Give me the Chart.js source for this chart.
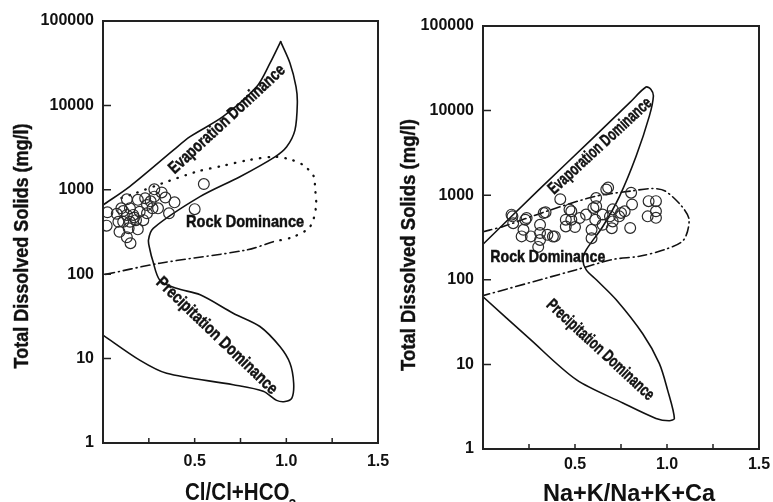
<!DOCTYPE html>
<html>
<head>
<meta charset="utf-8">
<script src="https://cdn.jsdelivr.net/npm/chart.js@4.4.1/dist/chart.umd.min.js"></script>
<style>
  html, body { margin: 0; padding: 0; background: #fff; }
  #wrap { position: relative; width: 773px; height: 502px; overflow: hidden; }
  canvas { position: absolute; top: 0; }
  #chartCl { left: 0; }
  #chartNa { left: 386px; }
</style>
</head>
<body>
<div id="wrap">
  <canvas id="chartCl" width="400" height="502"></canvas>
  <canvas id="chartNa" width="387" height="502"></canvas>
</div>
<script>
    // axis ticks (shared by both panels)
    const xTicks = [0, 0.25, 0.5, 0.75, 1.0, 1.25, 1.5];
    const xTickLabels = ['', '', '0.5', '', '1.0', '', '1.5'];
    const yTicks = [1, 10, 100, 1000, 10000, 100000];
    const yTickLabels = ['1', '10', '100', '1000', '10000', '100000'];

    // Cl/(Cl+HCO3) panel - samples
    const clSamplesX = [0.024, 0.02, 0.13, 0.10, 0.147, 0.165, 0.13, 0.084, 0.11, 0.147, 0.18, 0.22, 0.24, 0.24, 0.28,
      0.28, 0.34, 0.39, 0.36, 0.30, 0.27, 0.20, 0.09, 0.14, 0.19, 0.13, 0.15, 0.55, 0.50, 0.23, 0.11, 0.17, 0.075, 0.19, 0.26, 0.32];
    const clSamplesY = [541, 376, 771, 603, 603, 504, 504, 418, 418, 418, 437, 437, 527, 660, 1013,
      830, 810, 710, 527, 603, 603, 550, 318, 350, 340, 274, 233, 1170, 590, 795, 560, 470, 520, 760, 730, 930];

    // Cl panel - evaporation boundary up to the cusp
    const clEvapTopX = [0, 0.147, 0.384, 0.475, 0.656, 0.838, 0.911, 0.969];
    const clEvapTopY = [660, 1100, 2950, 4260, 7400, 16600, 31600, 56900];
    // Cl panel - from the cusp down round the precipitation tongue
    const clEnvX = [0.969, 1.02, 1.053, 1.06, 1.047, 1.002, 0.938, 0.747, 0.529, 0.274, 0.248, 0.256, 0.27, 0.31, 0.40,
      0.53, 0.71, 0.856, 0.966, 1.02, 1.04, 1.03, 0.993, 0.947, 0.874, 0.71, 0.347, 0.20, 0];
    const clEnvY = [56900, 31600, 16600, 10600, 5100, 3240, 2460, 1430, 830, 350, 254, 195, 148, 85, 68,
      57, 34.5, 24, 13.8, 8.8, 5.1, 3.4, 3.1, 3.2, 4.1, 4.9, 6.7, 9.6, 19];
    // Cl panel - rock dominance boundary (dotted, then dash-dot)
    const clRockDotX = [0.1, 0.175, 0.327, 0.511, 0.656, 0.793, 0.938, 1.02, 1.093, 1.151, 1.156, 1.162, 1.129, 1.038, 0.929];
    const clRockDotY = [800, 910, 1200, 1640, 1930, 2250, 2460, 2290, 1960, 1430, 1090, 630, 365, 277, 243];
    const clRockDashX = [0.929, 0.785, 0.31, 0];
    const clRockDashY = [243, 194, 135, 98];

    // Na+K/(Na+K+Ca) panel - samples
    const naSamplesX = [0.155, 0.164, 0.237, 0.22, 0.21, 0.26, 0.31, 0.31, 0.31, 0.30, 0.35, 0.39, 0.34, 0.42, 0.48,
      0.45, 0.45, 0.50, 0.525, 0.56, 0.60, 0.615, 0.67, 0.705, 0.65, 0.61, 0.59, 0.59, 0.65, 0.705, 0.70, 0.74,
      0.80, 0.81, 0.805, 0.77, 0.68, 0.90, 0.94, 0.895, 0.94, 0.94, 0.33, 0.23, 0.16, 0.38, 0.615, 0.69, 0.75, 0.47, 0.48];
    const naSamplesY = [589, 467, 537, 390, 326, 326, 447, 357, 296, 245, 340, 326, 627, 897, 645,
      513, 427, 420, 537, 590, 707, 925, 1170, 680, 590, 513, 390, 310, 447, 490, 407, 562,
      410, 776, 1070, 645, 1230, 850, 850, 562, 645, 540, 617, 513, 562, 324, 741, 562, 617, 676, 513];
    const naEnvX = [0, 0.3, 0.6, 0.8, 0.886, 0.913, 0.926, 0.904, 0.832, 0.742, 0.651, 0.561, 0.543, 0.561, 0.616,
      0.724, 0.868, 0.958, 1.003, 1.04, 1.012, 0.94, 0.76, 0.507, 0.254, 0];
    const naEnvY = [263, 1140, 4800, 12600, 19000, 17800, 14800, 8600, 2880, 970, 427, 226, 173, 131, 100,
      58, 23, 10.3, 5, 2.3, 2.16, 2.3, 3.5, 6.6, 20, 63];
    const naRockX = [0, 0.11, 0.345, 0.616, 0.805, 0.92, 0.99, 1.08, 1.12, 1.09, 0.99, 0.85, 0.706, 0.51, 0];
    const naRockY = [370, 427, 646, 977, 1120, 1200, 1120, 740, 513, 295, 229, 190, 174, 132, 65];

    const FONT = "'Liberation Sans', Arial, sans-serif";
    const INK = '#111';

    // per-panel decorations: region names sit at data coords, titles at canvas coords
    const decor = {
      chartCl: {
        xTitle: 'Cl/Cl+HCO', xSub: '3', xTitlePos: [241, 500], xTitleW: 112,
        yTitlePos: [22, 246], yTitleW: 245,
        regions: [
          { text: 'Evaporation Dominance', x: 0.677, y: 6800, angle: -42.8, w: 152 },
          { text: 'Rock Dominance', x: 0.775, y: 415, angle: 0, w: 118 },
          { text: 'Precipitation Dominance', x: 0.62, y: 18.6, angle: 43.8, w: 161 }
        ]
      },
      chartNa: {
        xTitle: 'Na+K/Na+K+Ca', xSub: '', xTitlePos: [243, 501], xTitleW: 172,
        yTitlePos: [23, 245], yTitleW: 252,
        regions: [
          { text: 'Evaporation Dominance', x: 0.637, y: 3800, angle: -42.6, w: 134 },
          { text: 'Rock Dominance', x: 0.352, y: 182, angle: 0, w: 115 },
          { text: 'Precipitation Dominance', x: 0.637, y: 14.8, angle: 42.7, w: 140 }
        ]
      }
    };

    function pts(xs, ys) { return xs.map((x, i) => ({ x, y: ys[i] })); }

    function curve(xs, ys, dash, width) {
      return {
        data: pts(xs, ys), showLine: true, pointRadius: 0, tension: 0.3,
        borderColor: INK, borderWidth: width || 1.6, borderDash: dash || [], borderCapStyle: 'round', fill: false
      };
    }

    function samples(xs, ys) {
      return {
        data: pts(xs, ys), showLine: false, pointRadius: 5.4, pointStyle: 'circle',
        borderColor: '#2a2a2a', backgroundColor: 'rgba(255,255,255,0)', borderWidth: 1.2
      };
    }

    // text squeezed to a given width (the original lettering is narrow and heavy)
    function squeeze(ctx, text, x, y, angleDeg, font, width, heavy) {
      ctx.save();
      ctx.translate(x, y);
      ctx.rotate(angleDeg * Math.PI / 180);
      ctx.font = font;
      const w = ctx.measureText(text).width;
      ctx.scale(width / w, 1);
      ctx.textAlign = 'center';
      ctx.textBaseline = 'middle';
      ctx.fillStyle = INK;
      ctx.fillText(text, 0, 0);
      if (heavy) {
        ctx.strokeStyle = INK;
        ctx.lineWidth = heavy;
        ctx.strokeText(text, 0, 0);
      }
      ctx.restore();
    }

    const gibbsDecor = {
      id: 'gibbsDecor',
      afterDatasetsDraw(chart) {
        const { ctx, chartArea: a, scales: { x, y } } = chart;
        const d = decor[chart.canvas.id];
        ctx.save();
        // inward tick marks
        ctx.strokeStyle = '#222';
        ctx.lineWidth = 1.5;
        ctx.beginPath();
        x.ticks.forEach(t => { const px = x.getPixelForValue(t.value); ctx.moveTo(px, a.bottom); ctx.lineTo(px, a.bottom - 5); });
        y.ticks.forEach(t => { const py = y.getPixelForValue(t.value); ctx.moveTo(a.left, py); ctx.lineTo(a.left + 8, py); });
        ctx.stroke();
        // frame
        ctx.lineWidth = 2;
        ctx.strokeRect(a.left, a.top, a.right - a.left, a.bottom - a.top);

        d.regions.forEach(r => squeeze(ctx, r.text, x.getPixelForValue(r.x), y.getPixelForValue(r.y), r.angle, 'bold 17px ' + FONT, r.w, 0.5));

        // y title
        squeeze(ctx, 'Total Dissolved Solids (mg/l)', d.yTitlePos[0], d.yTitlePos[1], -90, 'bold 20px ' + FONT, d.yTitleW, 0.4);

        // x title with optional subscript
        ctx.font = 'bold 23px ' + FONT;
        const wMain = ctx.measureText(d.xTitle).width;
        ctx.font = 'bold 15px ' + FONT;
        const wSub = d.xSub ? ctx.measureText(d.xSub).width : 0;
        const k = d.xTitleW / (wMain + wSub);
        ctx.save();
        ctx.translate(d.xTitlePos[0], d.xTitlePos[1]);
        ctx.scale(k, 1);
        ctx.fillStyle = INK;
        ctx.textBaseline = 'alphabetic';
        ctx.textAlign = 'left';
        const x0 = -(wMain + wSub) / 2;
        ctx.font = 'bold 23px ' + FONT;
        ctx.fillText(d.xTitle, x0, 0);
        if (d.xSub) {
          ctx.font = 'bold 15px ' + FONT;
          ctx.fillText(d.xSub, x0 + wMain - 1, 9);
        }
        ctx.restore();
        ctx.restore();
      }
    };

    function makeChart(id, datasets, pad, yAxisW, xAxisH, xPad) {
      return new Chart(document.getElementById(id), {
        type: 'scatter',
        data: { datasets },
        options: {
          responsive: false,
          animation: false,
          layout: { padding: pad },
          plugins: { legend: { display: false }, tooltip: { enabled: false } },
          scales: {
            x: {
              type: 'linear', min: 0, max: 1.5,
              grid: { display: false, drawTicks: false }, border: { display: false },
              afterBuildTicks: s => { s.ticks = xTicks.map(v => ({ value: v })); },
              afterFit: s => { s.height = xAxisH; s.paddingLeft = 0; s.paddingRight = 0; },
              ticks: {
                autoSkip: false, maxRotation: 0, padding: xPad, color: INK,
                font: { family: FONT, size: 16, weight: 'bold' },
                callback: (v, i) => xTickLabels[i]
              }
            },
            y: {
              type: 'logarithmic', min: 1, max: 100000,
              grid: { display: false, drawTicks: false }, border: { display: false },
              afterBuildTicks: s => { s.ticks = yTicks.map(v => ({ value: v })); },
              afterFit: s => { s.width = yAxisW; s.paddingTop = 0; s.paddingBottom = 0; },
              ticks: {
                autoSkip: false, padding: 9, color: INK,
                font: { family: FONT, size: 16, weight: 'bold' },
                callback: (v, i) => yTickLabels[i]
              }
            }
          }
        },
        plugins: [gibbsDecor]
      });
    }

    makeChart('chartCl', [
      samples(clSamplesX, clSamplesY),
      curve(clEvapTopX, clEvapTopY),
      curve(clEnvX, clEnvY),
      curve(clRockDotX, clRockDotY, [0.5, 8], 2.3),
      curve(clRockDashX, clRockDashY, [9, 4, 1, 4])
    ], { top: 21, right: 22, left: 0, bottom: 0 }, 103, 59, 9);

    makeChart('chartNa', [
      samples(naSamplesX, naSamplesY),
      curve(naEnvX, naEnvY),
      curve(naRockX, naRockY, [9, 4, 1, 4])
    ], { top: 26, right: 14, left: 0, bottom: 0 }, 97, 53, 6);
</script>
</body>
</html>
